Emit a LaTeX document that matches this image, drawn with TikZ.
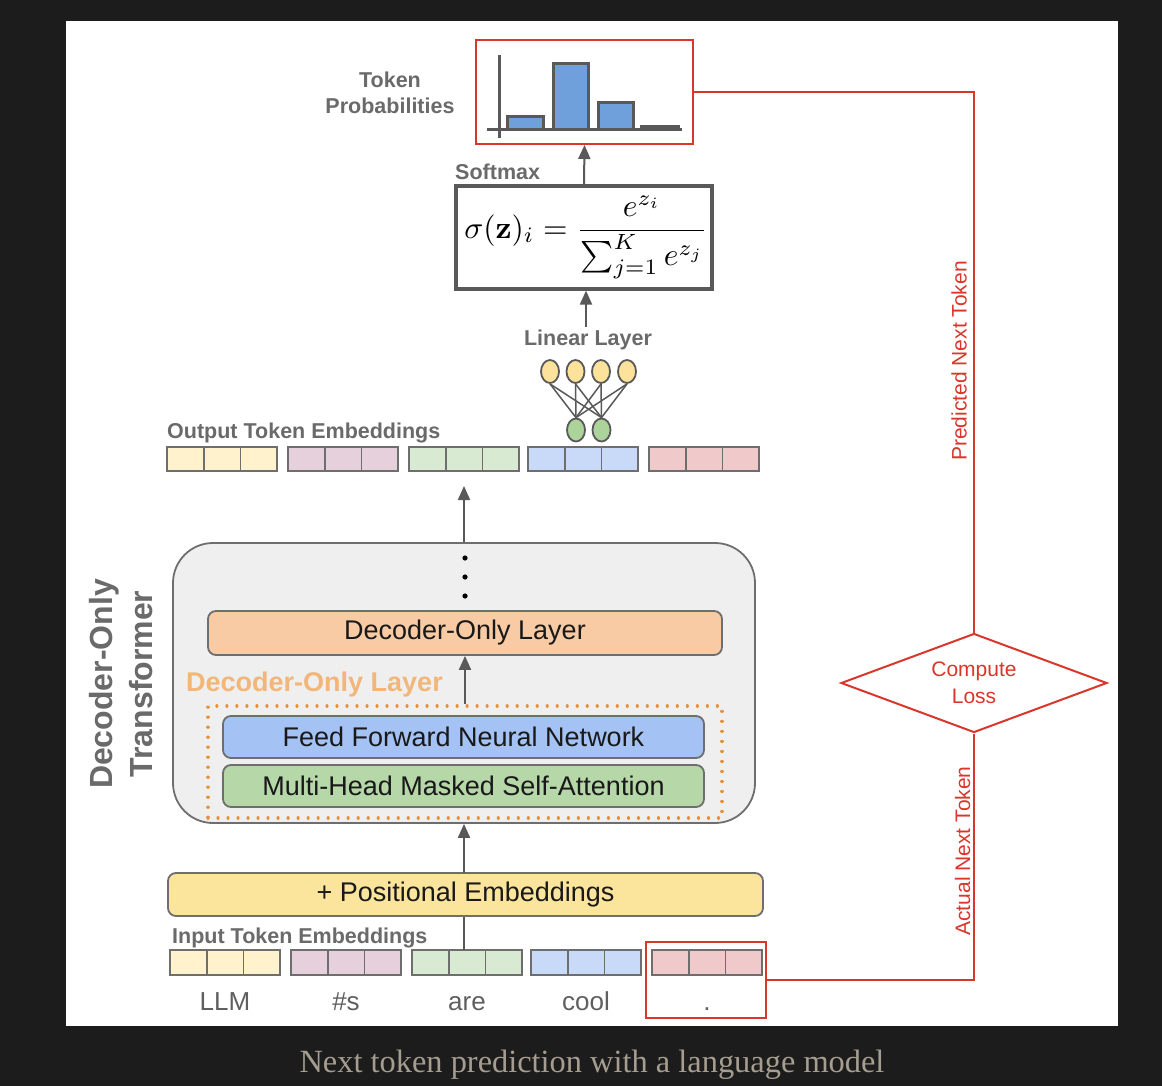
\documentclass[tikz,border=0pt]{standalone}
\usepackage{amsmath}
\usepackage{graphicx}
\usepackage[no-math]{fontspec}
\setmainfont{Liberation Sans}
\newfontfamily\capfont{Liberation Serif}
\usetikzlibrary{arrows.meta,shapes.geometric}

\definecolor{pagebg}{HTML}{1C1C1C}
\definecolor{captxt}{HTML}{A59D8F}
\definecolor{labgray}{HTML}{6A6A6A}
\definecolor{linegray}{HTML}{595959}
\definecolor{cellgray}{HTML}{6E6E6E}
\definecolor{lossred}{HTML}{D9362C}
\definecolor{barblue}{HTML}{6FA0DC}
\definecolor{embY}{HTML}{FFF2CC}
\definecolor{embP}{HTML}{E6D0DC}
\definecolor{embG}{HTML}{D9EAD3}
\definecolor{embB}{HTML}{C9DAF8}
\definecolor{embR}{HTML}{F0CACA}
\definecolor{blockfill}{HTML}{EFEFEF}
\definecolor{layerfill}{HTML}{F8CBA4}
\definecolor{ffnfill}{HTML}{A4C2F4}
\definecolor{attfill}{HTML}{B6D7A8}
\definecolor{posfill}{HTML}{FBE49C}
\definecolor{orangetxt}{HTML}{F2B679}
\definecolor{orangedot}{HTML}{E69138}
\definecolor{neuronY}{HTML}{FCE29A}
\definecolor{neuronG}{HTML}{ABD39A}

\tikzset{
  boldlabel/.style={font=\bfseries\fontsize{21.5}{26}\selectfont, text=labgray, inner sep=0pt},
  boxtext/.style={font=\fontsize{27}{32}\selectfont, text=black!90},
  flow/.style={draw=linegray, line width=2pt, -{Triangle[length=14pt,width=12pt]}},
  plainflow/.style={draw=linegray, line width=2pt},
  cell/.style={draw=cellgray, line width=1.8pt, minimum width=36.7pt, minimum height=24pt, inner sep=0pt, outer sep=0pt},
  tokword/.style={font=\fontsize{26}{30}\selectfont, text=labgray!90!black, inner sep=0pt},
  layerbox/.style={draw=cellgray, line width=1.8pt, rounded corners=8pt, inner sep=0pt, boxtext},
  neuron/.style={ellipse, draw=linegray, line width=1.8pt, minimum width=18pt, minimum height=23pt, inner sep=0pt},
  netline/.style={draw=linegray, line width=1.5pt},
  redline/.style={draw=lossred, line width=2pt},
  redlabel/.style={font=\fontsize{21}{25}\selectfont, text=lossred, inner sep=0pt},
  axis/.style={draw=linegray, line width=3pt},
  bar/.style={draw=linegray, line width=3pt, fill=barblue}
}

\begin{document}
\begin{tikzpicture}[x=1pt,y=-1pt]
\useasboundingbox (0,0) rectangle (1162,1086);
\fill[pagebg] (0,0) rectangle (1162,1086);
\fill[white] (66,21) rectangle (1118,1026);

% ---------- token probabilities ----------
\node[draw=lossred, line width=2pt, minimum width=217pt, minimum height=104pt, inner sep=0pt] (tok) at (584.5,92) {};
\draw[bar] (507,130) rectangle (543,117);
\draw[bar] (553,130) rectangle (588,64);
\draw[bar] (598,130) rectangle (633,103);
\draw[bar] (641,130) rectangle (678,126.5);
\draw[axis] (499,55) -- (499,138);
\draw[axis] (487,130) -- (682,130);
\node[boldlabel, align=center, font=\bfseries\fontsize{21.5}{26}\selectfont] (tokprob) at (390,93) {Token\\Probabilities};

% ---------- softmax ----------
\node[draw=linegray, line width=3.2pt, minimum width=256pt, minimum height=103pt, inner sep=0pt] (soft) at (584,237.5) {};
\node[inner sep=0pt] (formula) at (586,237.5)
  {\scalebox{3.15}{$\sigma(\mathbf{z})_i = \dfrac{e^{z_i}}{\sum_{j=1}^{K} e^{z_j}}$}};
\node[boldlabel, anchor=west] (softlab) at (455,172) {Softmax};
\draw[flow] (soft.north) -- (tok.south);

% ---------- linear layer ----------
\node[boldlabel] (linlab) at (588,340) {Linear Layer};
\draw[flow] (586,327) coordinate (linstart) -- (linstart |- soft.south);
\foreach \x [count=\i] in {550,575.5,601,627} {
  \node[neuron, fill=neuronY] (ny\i) at (\x,371.5) {};
}
\foreach \x [count=\i] in {576,601.5} {
  \node[neuron, fill=neuronG] (ng\i) at (\x,430) {};
}
\foreach \i in {1,...,4} {
  \foreach \j in {1,2} {
    \draw[netline] (ny\i.south) -- (ng\j.north);
  }
}

% ---------- output token embeddings ----------
\node[boldlabel, anchor=west] (outlab) at (167,433) {Output Token Embeddings};
\foreach \g/\c [count=\i] in {167/embY,288/embP,409/embG,528/embB,649/embR} {
  \foreach \k in {0,1,2} {
    \node[cell, fill=\c] (out\i-\k) at ({\g+18.35+\k*36.7},459) {};
  }
}

% ---------- decoder-only transformer block ----------
\node[draw=cellgray, line width=1.8pt, fill=blockfill, rounded corners=40pt,
      minimum width=582pt, minimum height=280pt, inner sep=0pt] (block) at (464,683) {};
\coordinate (outtip) at (464,486);
\draw[flow] (block.north -| outtip) -- (outtip);
\foreach \y [count=\i] in {558,577,596} {
  \fill[black] (465,\y) circle (2.6pt);
}
\node[layerbox, fill=layerfill, minimum width=514pt, minimum height=44pt] (layer) at (465,633) {Decoder-Only Layer};
\node[draw=orangedot, line width=3.2pt, dash pattern=on 0.01pt off 10pt, line cap=round,
      minimum width=514pt, minimum height=112pt, inner sep=0pt] (dotbox) at (465,762) {};
\node[font=\bfseries\fontsize{27}{32}\selectfont, text=orangetxt, anchor=west, inner sep=0pt] (laylab) at (186,685) {Decoder-Only Layer};
\draw[flow] (dotbox.north) -- (layer.south);
\node[layerbox, fill=ffnfill, minimum width=481pt, minimum height=42pt] (ffn) at (463.5,737) {Feed Forward Neural Network};
\node[layerbox, fill=attfill, minimum width=481pt, minimum height=42pt] (att) at (463.5,786) {Multi-Head Masked Self-Attention};
\node[font=\bfseries\fontsize{32}{39.5}\selectfont, text=labgray, align=center, rotate=90, inner sep=0pt] (dectitle) at (121,684) {Decoder-Only\\Transformer};

% ---------- positional embeddings ----------
\node[layerbox, fill=posfill, minimum width=595pt, minimum height=43pt] (pos) at (465.5,894.5) {+ Positional Embeddings};
\draw[flow] (464,873) coordinate (posup) -- (posup |- block.south);

% ---------- input token embeddings ----------
\node[boldlabel, anchor=west] (inlab) at (172,938) {Input Token Embeddings};
\foreach \g/\c/\w [count=\i] in {170/embY/LLM,291/embP/\#s,412/embG/are,531/embB/cool,652/embR/.} {
  \foreach \k in {0,1,2} {
    \node[cell, fill=\c, minimum height=25pt] (in\i-\k) at ({\g+18.35+\k*36.7},962.5) {};
  }
  \node[tokword, anchor=base] (word\i) at ({\g+55},1010) {\w};
}
\draw[plainflow] (464,950) coordinate (inup) -- (inup |- pos.south);

% ---------- loss ----------
\node[draw=lossred, line width=2pt, minimum width=120pt, minimum height=76pt, inner sep=0pt] (inred) at (706,980) {};
\node[diamond, draw=lossred, line width=2pt, shape aspect=2.7, minimum width=266pt, minimum height=99pt,
      inner sep=0pt, align=center, font=\fontsize{21}{27}\selectfont, text=lossred] (loss) at (974,683) {Compute\\Loss};
\draw[redline] (tok.east) -| (loss.north);
\draw[redline] (inred.east) -| (loss.south);
\node[redlabel, rotate=90] (pnt) at (959,361) {Predicted Next Token};
\node[redlabel, rotate=90] (ant) at (962.5,851) {Actual Next Token};

% ---------- caption ----------
\node[font=\capfont\fontsize{32.4}{38}\selectfont, text=captxt, inner sep=0pt] (cap) at (592,1065) {Next token prediction with a language model};
\end{tikzpicture}
\end{document}
